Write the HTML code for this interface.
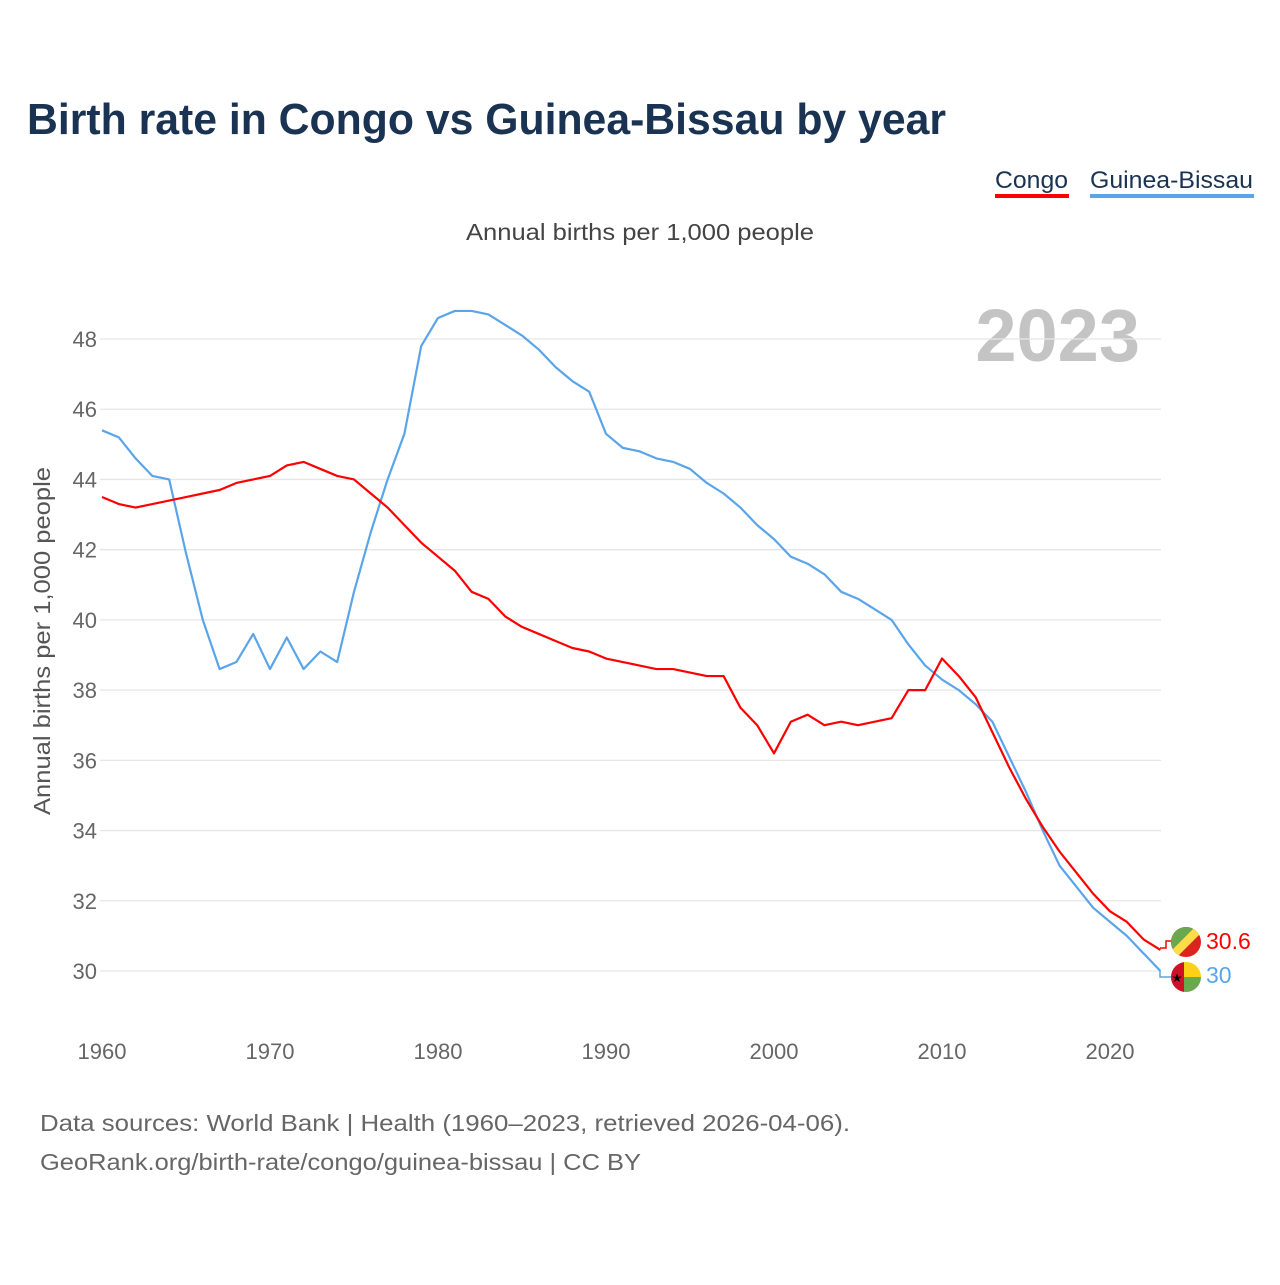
<!DOCTYPE html>
<html><head><meta charset="utf-8"><style>
body{margin:0;width:1280px;height:1280px;background:#fff;font-family:"Liberation Sans",sans-serif;overflow:hidden}
svg text{font-family:"Liberation Sans",sans-serif}
</style></head><body>
<svg width="1280" height="1280">
<text x="27" y="134" font-size="44" font-weight="bold" fill="#1b3352" textLength="919" lengthAdjust="spacingAndGlyphs">Birth rate in Congo vs Guinea-Bissau by year</text>
<g><text x="995" y="188" font-size="24" fill="#1b3352" textLength="73" lengthAdjust="spacingAndGlyphs">Congo</text><rect x="995" y="194" width="74" height="4" fill="#ff0000"/></g>
<g><text x="1090" y="188" font-size="24" fill="#1b3352" textLength="163" lengthAdjust="spacingAndGlyphs">Guinea-Bissau</text><rect x="1090" y="194" width="164" height="4" fill="#5aa5ea"/></g>
<text x="466" y="240" font-size="23" fill="#444" textLength="348" lengthAdjust="spacingAndGlyphs">Annual births per 1,000 people</text>
<text x="1140" y="361" font-size="74" font-weight="bold" fill="#c4c4c4" text-anchor="end">2023</text>
<text transform="translate(50,815) rotate(-90)" font-size="23" fill="#555" textLength="348" lengthAdjust="spacingAndGlyphs">Annual births per 1,000 people</text>
<g id="grid"></g><g id="ticks"></g><g id="lines"></g>
<g>
<path d="M1160 948 h6 v-7 h6" stroke="#ff0000" fill="none" stroke-width="1.5"/>
<path d="M1160 971 v6 h12" stroke="#5aa5ea" fill="none" stroke-width="1.5"/>
<g><clipPath id="c1"><circle cx="1186" cy="942" r="15"/></clipPath><g clip-path="url(#c1)"><rect x="1170" y="926" width="32" height="32" fill="#dc241f"/><polygon points="1170,926 1196,926 1170,952" fill="#6aa84f"/><polygon points="1196,926 1202,926 1202,932 1176,958 1170,958 1170,952" fill="#fbde4a"/></g></g>
<g><clipPath id="c2"><circle cx="1186" cy="977" r="15"/></clipPath><g clip-path="url(#c2)"><rect x="1170" y="961" width="32" height="16" fill="#fcd116"/><rect x="1170" y="977" width="32" height="16" fill="#6aa84f"/><rect x="1170" y="961" width="14" height="32" fill="#ce1126"/><text x="1177" y="982" font-size="12" text-anchor="middle">★</text></g></g>
<text x="1206" y="949" font-size="23" fill="#ff0000">30.6</text>
<text x="1206" y="983" font-size="23" fill="#5aa5ea">30</text>
</g>
<text x="40" y="1131" font-size="23" fill="#666" textLength="810" lengthAdjust="spacingAndGlyphs">Data sources: World Bank | Health (1960–2023, retrieved 2026-04-06).</text>
<text x="40" y="1170" font-size="23" fill="#666" textLength="601" lengthAdjust="spacingAndGlyphs">GeoRank.org/birth-rate/congo/guinea-bissau | CC BY</text>
</svg>
<script>
const years=[];for(let y=1960;y<=2023;y++)years.push(y);
const congo=[43.5,43.3,43.2,43.3,43.4,43.5,43.6,43.7,43.9,44.0,44.1,44.4,44.5,44.3,44.1,44.0,43.6,43.2,42.7,42.2,41.8,41.4,40.8,40.6,40.1,39.8,39.6,39.4,39.2,39.1,38.9,38.8,38.7,38.6,38.6,38.5,38.4,38.4,37.5,37.0,36.2,37.1,37.3,37.0,37.1,37.0,37.1,37.2,38.0,38.0,38.9,38.4,37.8,36.8,35.8,34.9,34.1,33.4,32.8,32.2,31.7,31.4,30.9,30.6];
const guinea=[45.4,45.2,44.6,44.1,44.0,41.9,40.0,38.6,38.8,39.6,38.6,39.5,38.6,39.1,38.8,40.8,42.5,44.0,45.3,47.8,48.6,48.8,48.8,48.7,48.4,48.1,47.7,47.2,46.8,46.5,45.3,44.9,44.8,44.6,44.5,44.3,43.9,43.6,43.2,42.7,42.3,41.8,41.6,41.3,40.8,40.6,40.3,40.0,39.3,38.7,38.3,38.0,37.6,37.1,36.1,35.1,34.0,33.0,32.4,31.8,31.4,31.0,30.5,30.0];
const yTicks=[30,32,34,36,38,40,42,44,46,48];
const xTicks=[1960,1970,1980,1990,2000,2010,2020];
const NS="http://www.w3.org/2000/svg";
const xs=y=>102+(y-1960)*16.8;
const ys=v=>971-(v-30)*35.11;
function mk(tag,attrs,parent){const e=document.createElementNS(NS,tag);for(const k in attrs)e.setAttribute(k,attrs[k]);document.getElementById(parent).appendChild(e);return e;}
yTicks.forEach(v=>{
 const l=mk('line',{x1:100,x2:1161,y1:ys(v),y2:ys(v),stroke:'#e6e6e6','stroke-width':1.3},'grid');
 
 
 const t=mk('text',{x:97,y:ys(v)+8,'font-size':22,fill:'#666','text-anchor':'end'},'ticks');
 t.textContent=v;
 
 
});
xTicks.forEach(v=>{
 const t=mk('text',{x:xs(v),y:1059,'font-size':22,fill:'#666','text-anchor':'middle'},'ticks');
 t.textContent=v;
 
 
});
function line(data,color,name){
 const p=mk('polyline',{points:data.map((v,i)=>xs(years[i])+','+ys(v)).join(' '),fill:'none',stroke:color,'stroke-width':2.2,'stroke-linejoin':'round'},'lines');
 
 
}
line(guinea,'#5aa5ea','guinea-bissau-line');
line(congo,'#ff0000','congo-line');
</script>
</body></html>
